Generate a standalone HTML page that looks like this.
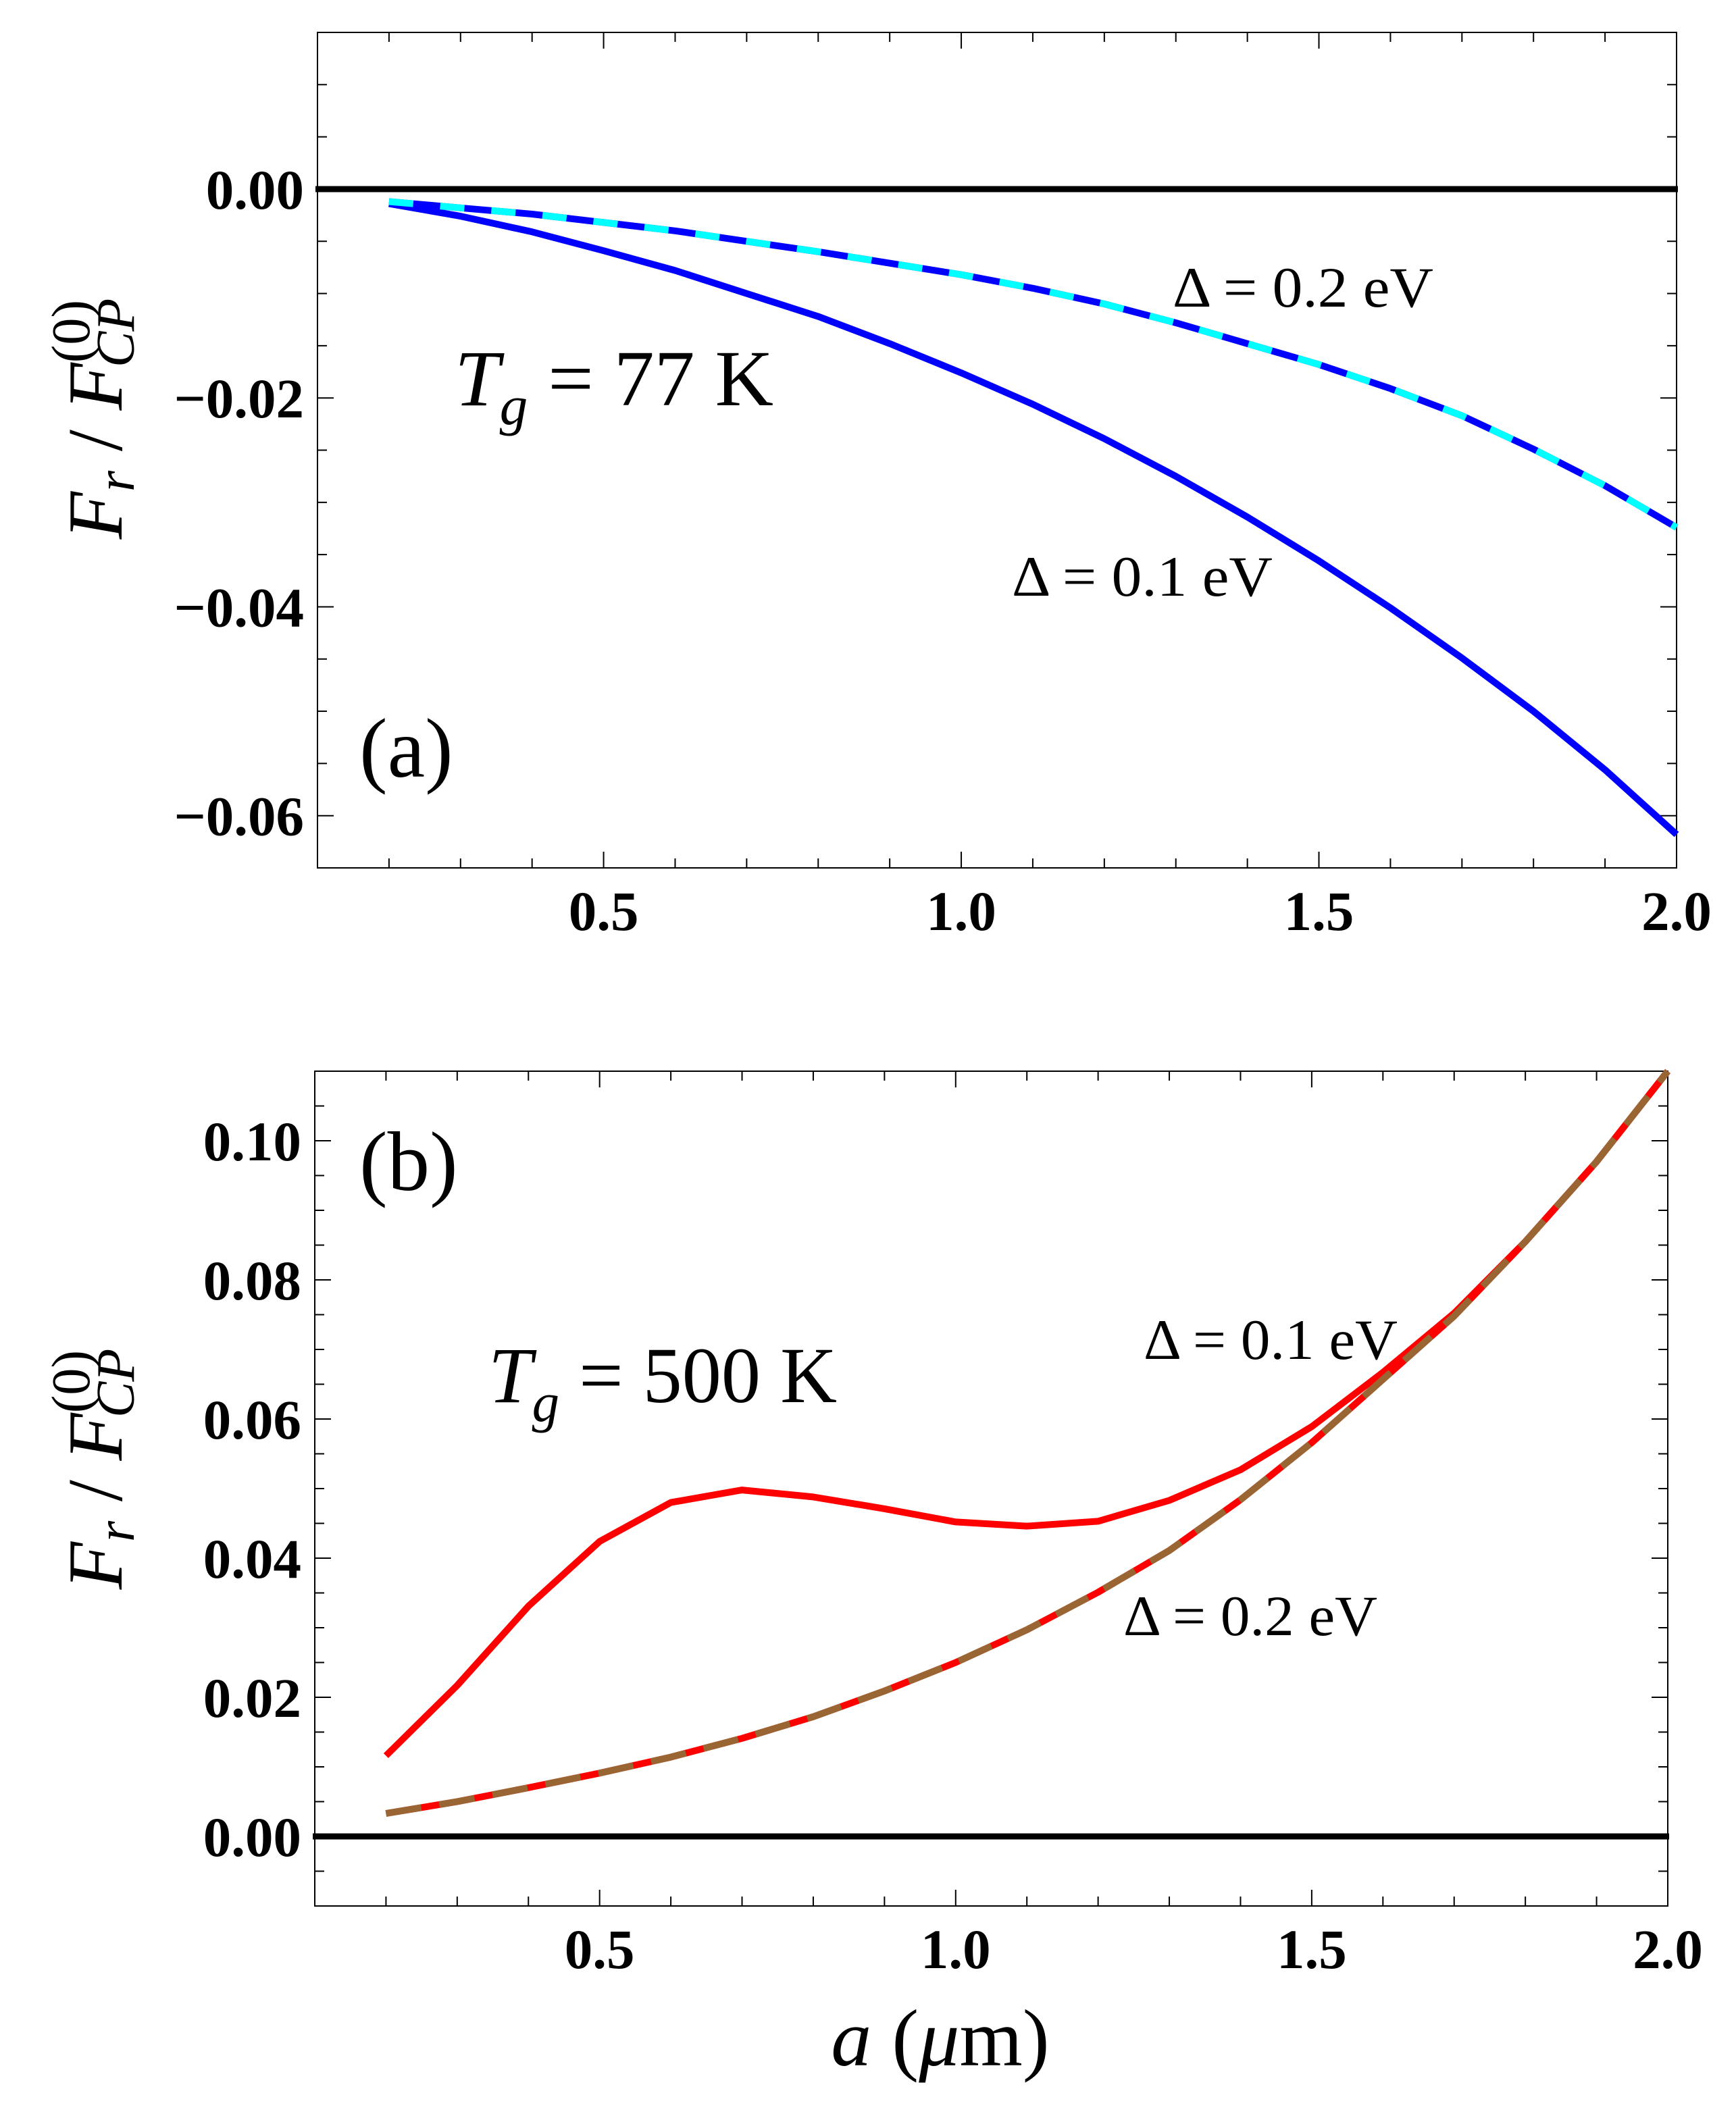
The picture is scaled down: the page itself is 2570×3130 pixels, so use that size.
<!DOCTYPE html>
<html><head><meta charset="utf-8"><style>
html,body{margin:0;padding:0;background:#fff}
svg{display:block}
text{font-family:"Liberation Serif","DejaVu Serif",serif}
.tick{font-weight:bold;font-size:83px}
</style></head><body>
<svg id="fig" width="2570" height="3130" viewBox="0 0 2570 3130" xmlns="http://www.w3.org/2000/svg">
<rect width="2570" height="3130" fill="#fff"/>
<g id="pa"></g>
<g id="pb"></g>

<!-- annotations panel a -->
<text x="673" y="600" font-size="118" textLength="472" lengthAdjust="spacingAndGlyphs"><tspan font-style="italic">T</tspan><tspan font-style="italic" font-size="82" dy="28">g</tspan><tspan dy="-28"> = 77 K</tspan></text>
<text x="1736" y="454" font-size="85" textLength="386" lengthAdjust="spacingAndGlyphs">Δ = 0.2 eV</text>
<text x="1498" y="882" font-size="85" textLength="386" lengthAdjust="spacingAndGlyphs">Δ = 0.1 eV</text>
<text x="532" y="1150" font-size="125">(a)</text>

<!-- annotations panel b -->
<text x="532" y="1762" font-size="125">(b)</text>
<text x="723" y="2076" font-size="118" textLength="516" lengthAdjust="spacingAndGlyphs"><tspan font-style="italic">T</tspan><tspan font-style="italic" font-size="82" dy="28">g</tspan><tspan dy="-28"> = 500 K</tspan></text>
<text x="1693" y="2012" font-size="85" textLength="376" lengthAdjust="spacingAndGlyphs">Δ = 0.1 eV</text>
<text x="1663" y="2421" font-size="85" textLength="376" lengthAdjust="spacingAndGlyphs">Δ = 0.2 eV</text>

<!-- axis titles -->
<g transform="translate(180,620) rotate(-90)">
<text x="0" y="0" font-size="115" text-anchor="middle"><tspan font-style="italic">F</tspan><tspan font-style="italic" font-size="80" dy="18">r</tspan><tspan dy="-18"> / </tspan><tspan font-style="italic">F</tspan><tspan font-size="80" dy="-48">(0)</tspan><tspan font-style="italic" font-size="80" dx="-100" dy="66">CP</tspan></text>
</g>
<g transform="translate(180,2175) rotate(-90)">
<text x="0" y="0" font-size="115" text-anchor="middle"><tspan font-style="italic">F</tspan><tspan font-style="italic" font-size="80" dy="18">r</tspan><tspan dy="-18"> / </tspan><tspan font-style="italic">F</tspan><tspan font-size="80" dy="-48">(0)</tspan><tspan font-style="italic" font-size="80" dx="-100" dy="66">CP</tspan></text>
</g>
<text x="1392" y="3058" font-size="120" text-anchor="middle"><tspan font-style="italic">a</tspan> (<tspan font-style="italic">μ</tspan>m)</text>
</svg>
<script>
const aValues = [0.2,0.3,0.4,0.5,0.6,0.7,0.8,0.9,1.0,1.1,1.2,1.3,1.4,1.5,1.6,1.7,1.8,1.9,2.0];
const panelA_delta01 = [-0.0014,-0.0026,-0.0041,-0.0059,-0.0078,-0.0100,-0.0122,-0.0148,-0.0176,-0.0206,-0.0239,-0.0275,-0.0314,-0.0356,-0.0401,-0.0449,-0.0500,-0.0556,-0.0618];
const panelA_delta02 = [-0.0012,-0.0018,-0.0024,-0.0032,-0.0040,-0.0050,-0.0060,-0.0071,-0.0082,-0.0095,-0.0110,-0.0128,-0.0148,-0.0168,-0.0191,-0.0217,-0.0249,-0.0284,-0.0324];
const panelB_delta01 = [0.0116,0.0217,0.0331,0.0424,0.0480,0.0498,0.0488,0.0471,0.0452,0.0446,0.0453,0.0483,0.0527,0.0589,0.0667,0.0752,0.0855,0.0970,0.1100];
const panelB_delta02 = [0.0033,0.0050,0.0070,0.0091,0.0114,0.0141,0.0172,0.0209,0.0250,0.0297,0.0351,0.0411,0.0484,0.0566,0.0657,0.0748,0.0855,0.0970,0.1100];
const xTickLabels = ["0.5","1.0","1.5","2.0"];
const xTickValues = [0.5,1.0,1.5,2.0];
const panelA_yTickValues = [0,-0.02,-0.04,-0.06];
const panelA_yTickLabels = ["0.00","\u22120.02","\u22120.04","\u22120.06"];
const panelB_yTickValues = [0,0.02,0.04,0.06,0.08,0.10];
const panelB_yTickLabels = ["0.00","0.02","0.04","0.06","0.08","0.10"];

const NS="http://www.w3.org/2000/svg";
function mk(tag,attrs,parent){const e=document.createElementNS(NS,tag);for(const k in attrs)e.setAttribute(k,attrs[k]);parent.appendChild(e);return e;}

function panel(g, box, xr, yr, yTicks, yLabels, yMinorStep, series, prefix){
  const X=v=>box.l+(v-xr[0])/(xr[1]-xr[0])*(box.r-box.l);
  const Y=v=>box.b-(v-yr[0])/(yr[1]-yr[0])*(box.b-box.t);
  const fr=mk('rect',{x:box.l,y:box.t,width:box.r-box.l,height:box.b-box.t,fill:'none',stroke:'#000','stroke-width':2},g);
  
  
  for(let i=1;i<=19;i++){const xv=0.1+i*0.1; if(xv>xr[1]+1e-9)break;
    const major=Math.abs(xv*2-Math.round(xv*2))<1e-6; const L=major?24:14;
    const t1=mk('line',{x1:X(xv),x2:X(xv),y1:box.b,y2:box.b-L,stroke:'#000','stroke-width':2},g);
    
    
    const t2=mk('line',{x1:X(xv),x2:X(xv),y1:box.t,y2:box.t+L,stroke:'#000','stroke-width':2},g);
    
    
  }
  const n0=Math.ceil(yr[0]/yMinorStep-1e-6), n1=Math.floor(yr[1]/yMinorStep+1e-6);
  for(let n=n0;n<=n1;n++){const yv=n*yMinorStep; const major=(n%4===0); const L=major?24:14;
    const t1=mk('line',{x1:box.l,x2:box.l+L,y1:Y(yv),y2:Y(yv),stroke:'#000','stroke-width':2},g);
    
    
    const t2=mk('line',{x1:box.r,x2:box.r-L,y1:Y(yv),y2:Y(yv),stroke:'#000','stroke-width':2},g);
    
    
  }
  xTickValues.forEach((v,i)=>{const t=mk('text',{x:X(v),y:box.b+92,'text-anchor':'middle',class:'tick'},g);t.textContent=xTickLabels[i];
    
    });
  yTicks.forEach((v,i)=>{const t=mk('text',{x:box.l-20,y:Y(v)+29,'text-anchor':'end',class:'tick'},g);t.textContent=yLabels[i];
    
    });
  const z=mk('line',{x1:box.l-3,x2:box.r+2,y1:Y(0),y2:Y(0),stroke:'#000','stroke-width':9},g);
  
  
  series.forEach(s=>{
    const d=aValues.map((a,i)=>(i?'L':'M')+X(a).toFixed(1)+' '+Y(s.vals[i]).toFixed(1)).join(' ');
    const p=mk('path',{d:d,fill:'none',stroke:s.color,'stroke-width':10,'stroke-linejoin':'round'},g);
    if(s.dash)p.setAttribute('stroke-dasharray',s.dash);
    
    
  });
}
panel(document.getElementById('pa'),{l:470,r:2482,t:48,b:1285},[0.1,2.0],[-0.065,0.015],panelA_yTickValues,panelA_yTickLabels,0.005,[
  {vals:panelA_delta01,color:'#0000ff',name:'panel-a-delta-0.1-line'},
  {vals:panelA_delta02,color:'#0000ff',name:'panel-a-delta-0.2-line'},
  {vals:panelA_delta02,color:'#00ffff',dash:'36 40',name:'panel-a-delta-0.2-dashed-line'}],'panel-a');
panel(document.getElementById('pb'),{l:466,r:2469,t:1586,b:2822},[0.1,2.0],[-0.01,0.11],panelB_yTickValues,panelB_yTickLabels,0.005,[
  {vals:panelB_delta01,color:'#ff0000',name:'panel-b-delta-0.1-line'},
  {vals:panelB_delta02,color:'#ff0000',name:'panel-b-delta-0.2-line'},
  {vals:panelB_delta02,color:'#996633',dash:'53 27',name:'panel-b-delta-0.2-dashed-line'}],'panel-b');
</script>
</body></html>
